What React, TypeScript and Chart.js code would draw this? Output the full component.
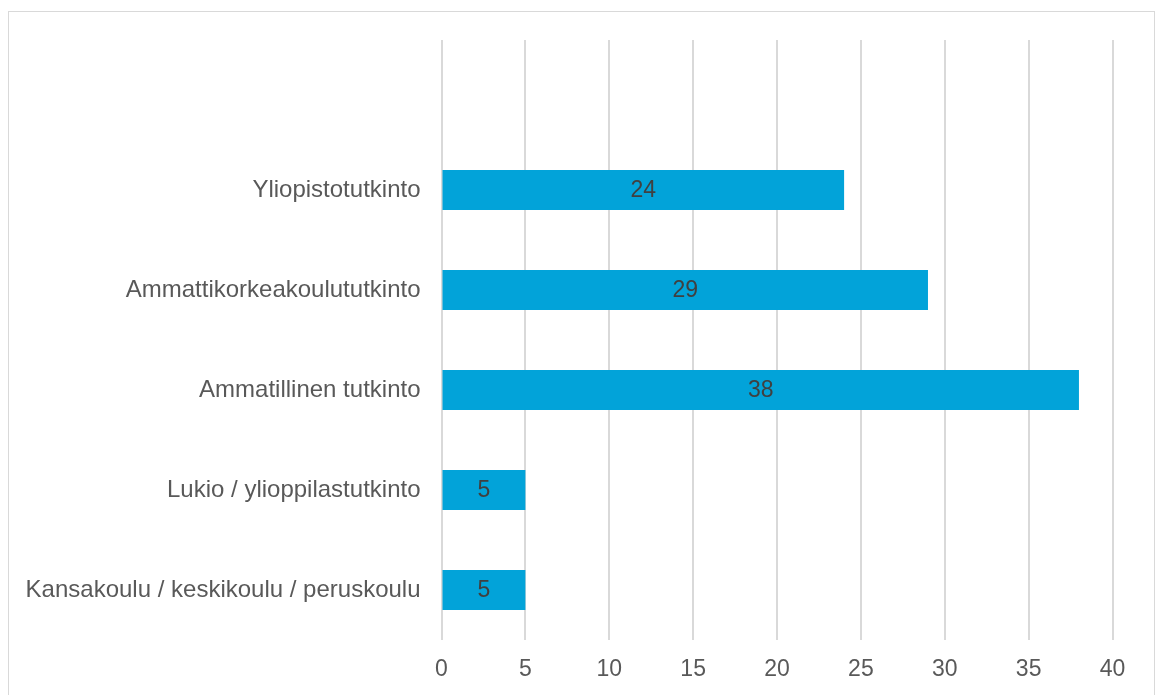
import React, { useEffect, useRef } from "react";
import { Chart, registerables } from "chart.js";

Chart.register(...registerables);

const categories: string[] = [
  "",
  "Yliopistotutkinto",
  "Ammattikorkeakoulututkinto",
  "Ammatillinen tutkinto",
  "Lukio / ylioppilastutkinto",
  "Kansakoulu / keskikoulu / peruskoulu",
];
const values: (number | null)[] = [null, 24, 29, 38, 5, 5];
const xMin = 0;
const xMax = 40;
const xStep = 5;

const FONT = "'Liberation Sans', Arial, sans-serif";

const valueLabels = {
  id: "valueLabels",
  afterDatasetsDraw(chart: any) {
    const ctx = chart.ctx;
    const meta = chart.getDatasetMeta(0);
    ctx.save();
    ctx.font = `23px ${FONT}`;
    ctx.fillStyle = "#404040";
    ctx.textAlign = "center";
    ctx.textBaseline = "middle";
    meta.data.forEach((el: any, i: number) => {
      const v = values[i];
      if (v === null || v === undefined) return;
      const cx = (el.x + el.base) / 2;
      ctx.fillText(String(v), cx, el.y + 1);
    });
    ctx.restore();
  },
};

export default function App() {
  const ref = useRef<HTMLCanvasElement | null>(null);
  useEffect(() => {
    if (!ref.current) return;
    const chart = new Chart(ref.current, {
      type: "bar",
      data: {
        labels: categories,
        datasets: [
          {
            data: values as any,
            backgroundColor: "#02a3d9",
            borderWidth: 0,
            categoryPercentage: 1,
            barPercentage: 0.4,
          },
        ],
      },
      options: {
        indexAxis: "y",
        animation: false,
        responsive: false,
        maintainAspectRatio: false,
        layout: { padding: { top: 28, right: 41.5, left: 0, bottom: 0 } },
        plugins: {
          legend: { display: false },
          tooltip: { enabled: false },
        },
        scales: {
          x: {
            min: xMin,
            max: xMax,
            ticks: {
              stepSize: xStep,
              color: "#595959",
              font: { family: FONT, size: 23 },
              padding: 16,
            },
            grid: { color: "#d9d9d9", lineWidth: 2, drawTicks: false },
            border: { display: false },
            afterFit: (scale: any) => {
              scale.height = 55;
              scale.paddingLeft = 0;
              scale.paddingRight = 0;
            },
          },
          y: {
            ticks: {
              color: "#595959",
              font: { family: FONT, size: 24 },
              padding: 21,
            },
            grid: { display: false, drawTicks: false },
            border: { display: false },
            afterFit: (scale: any) => {
              scale.width = 432.5;
              scale.paddingTop = 0;
              scale.paddingBottom = 0;
            },
          },
        },
      },
      plugins: [valueLabels],
    });
    return () => chart.destroy();
  }, []);

  return (
    <div
      style={{
        position: "absolute",
        left: 0,
        top: 0,
        width: 1156,
        height: 695,
        overflow: "hidden",
        background: "#fff",
      }}
    >
      <div
        style={{
          position: "absolute",
          left: 8,
          top: 11,
          width: 1145,
          height: 700,
          border: "1px solid #d9d9d9",
          boxSizing: "content-box",
        }}
      >
        <canvas
          ref={ref}
          width={1145}
          height={683}
          style={{ display: "block", width: 1145, height: 683 }}
        />
      </div>
    </div>
  );
}
